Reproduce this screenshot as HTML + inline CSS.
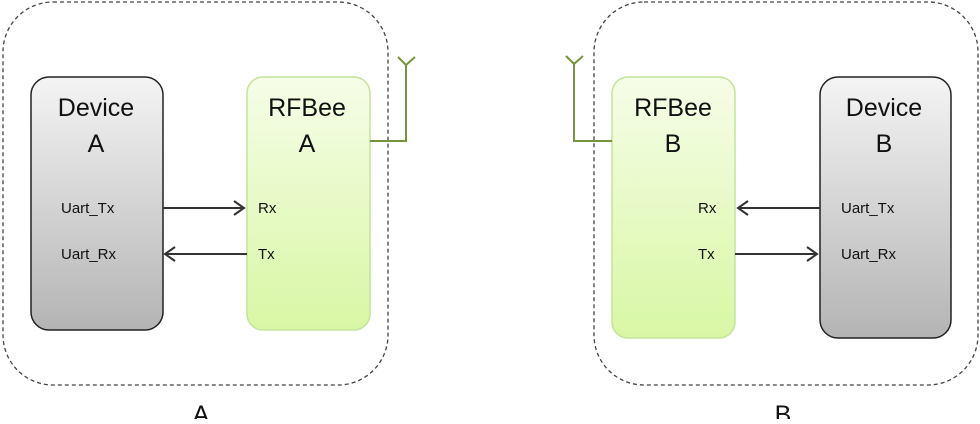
<!DOCTYPE html>
<html><head><style>body{margin:0;background:#fff}</style></head><body>
<svg width="980" height="419" xmlns="http://www.w3.org/2000/svg" font-family="Liberation Sans, sans-serif">
<defs>
<linearGradient id="g" x1="0" y1="0" x2="0" y2="1"><stop offset="0" stop-color="#f4f4f4"/><stop offset="1" stop-color="#b4b4b4"/></linearGradient>
<linearGradient id="gr" x1="0" y1="0" x2="0" y2="1"><stop offset="0" stop-color="#f6fde8"/><stop offset="1" stop-color="#d8f7a4"/></linearGradient>
</defs>
<g fill="none" stroke="#444" stroke-width="1.3" stroke-dasharray="4,3">
<rect x="3" y="2" width="385" height="383" rx="50"/>
<rect x="594" y="2" width="384" height="383" rx="50"/>
</g>
<g stroke="#222" stroke-width="1.5">
<rect x="31" y="77" width="132" height="253" rx="18" fill="url(#g)"/>
<rect x="820" y="77" width="131" height="261" rx="18" fill="url(#g)"/>
</g>
<g stroke="#c4e39a" stroke-width="1.5">
<rect x="247" y="77" width="123" height="253" rx="16" fill="url(#gr)"/>
<rect x="612" y="77" width="123" height="261" rx="16" fill="url(#gr)"/>
</g>
<g fill="none" stroke="#77933c" stroke-width="2">
<polyline points="370,141 406,141 406,65"/><polyline points="398,57 406,65 415,57"/>
<polyline points="612,141 574,141 574,62"/><polyline points="566,56 574,64 583,56"/>
</g>
<g fill="none" stroke="#333" stroke-width="2">
<line x1="163" y1="208" x2="244" y2="208"/><polyline points="234,201 244,208 234,215"/>
<line x1="247" y1="254" x2="165" y2="254"/><polyline points="175,247 165,254 175,261"/>
<line x1="820" y1="208" x2="738" y2="208"/><polyline points="748,201 738,208 748,215"/>
<line x1="735" y1="254" x2="817" y2="254"/><polyline points="807,247 817,254 807,261"/>
</g>
<g fill="#111" font-size="25" text-anchor="middle">
<text x="96" y="116">Device</text><text x="96" y="152">A</text>
<text x="307" y="116">RFBee</text><text x="307" y="152">A</text>
<text x="673" y="116">RFBee</text><text x="673" y="152">B</text>
<text x="884" y="116">Device</text><text x="884" y="152">B</text>
<text x="201" y="423">A</text><text x="783" y="423">B</text>
</g>
<g fill="#111" font-size="15">
<text x="61" y="213">Uart_Tx</text><text x="61" y="259">Uart_Rx</text>
<text x="258" y="213">Rx</text><text x="258" y="259">Tx</text>
<text x="698" y="213">Rx</text><text x="698" y="259">Tx</text>
<text x="841" y="213">Uart_Tx</text><text x="841" y="259">Uart_Rx</text>
</g>
</svg>
</body></html>
